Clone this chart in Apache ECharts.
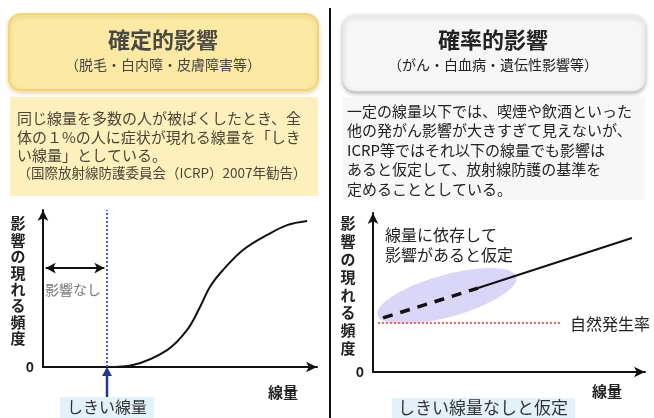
<!DOCTYPE html>
<html>
<head>
<meta charset="utf-8">
<script src="https://cdn.jsdelivr.net/npm/echarts@6/dist/echarts.min.js"></script>
<style>
  html, body { margin: 0; padding: 0; background: #fff; }
  #chart { width: 654px; height: 418px; }
</style>
</head>
<body>
<div id="chart"></div>
<script>
// 確定的影響（しきい値あり）の曲線
const leftDose = [23.4, 32.8, 45.3, 52.6, 57.3, 60.9, 65.7, 73, 81.8, 89.1, 96.4];
const leftFreq = [0, 1.3, 10.8, 23.6, 38.2, 51, 61.8, 74.5, 84.1, 90.4, 93];
const threshold = 23.4;

// 確率的影響（しきい値なし）
const rightDashDose = [3.7, 38.6];
const rightDashFreq = [34, 52.8];
const rightSolidDose = [38.6, 95.2];
const rightSolidFreq = [52.8, 84.3];
const naturalDose = [1.8, 68.8];
const naturalFreq = [30.8, 30.8];

const leftTitle = '確定的影響';
const leftSub = '（脱毛・白内障・皮膚障害等）';
const leftBody = ['同じ線量を多数の人が被ばくしたとき、全', '体の１%の人に症状が現れる線量を「しき', 'い線量」としている。'];
const leftNote = '（国際放射線防護委員会（ICRP）2007年勧告）';
const rightTitle = '確率的影響';
const rightSub = '（がん・白血病・遺伝性影響等）';
const rightBody = ['一定の線量以下では、喫煙や飲酒といった', '他の発がん影響が大きすぎて見えないが、', 'ICRP等ではそれ以下の線量でも影響は', 'あると仮定して、放射線防護の基準を', '定めることとしている。'];
const yName = '影響の現れる頻度';

const FONT = '"Noto Sans CJK JP", sans-serif';
const pairs = (xs, ys) => xs.map((x, i) => [x, ys[i]]);

const chart = echarts.init(document.getElementById('chart'));

function axisX(gridIndex) {
    return {
        type: 'value', gridIndex, min: 0, max: 100,
        axisLine: { show: true, symbol: ['none', 'arrow'], symbolSize: [8, 11], lineStyle: { color: '#111', width: 2 } },
        axisTick: { show: false }, axisLabel: { show: false }, splitLine: { show: false }
    };
}
function axisY(gridIndex) {
    return {
        type: 'value', gridIndex, min: 0, max: 100, interval: 100,
        axisLine: { show: true, symbol: ['none', 'arrow'], symbolSize: [8, 11], lineStyle: { color: '#111', width: 2 } },
        axisTick: { show: false }, splitLine: { show: false },
        axisLabel: {
            margin: 9, fontFamily: FONT, fontWeight: 'bold', fontSize: 14, color: '#222',
            formatter: v => (v === 0 ? '0' : '')
        }
    };
}

const text = (t, x, y, size, opts = {}) => ({
    type: 'text', z: 10,
    style: {
        text: t, x, y, font: `${opts.bold ? 'bold ' : ''}${size}px ${FONT}`,
        fill: opts.color || '#333', textAlign: opts.align || 'left', textVerticalAlign: 'middle',
        lineHeight: opts.lineHeight
    }
});

const graphics = [
    // 左ヘッダー
    { type: 'rect', shape: { x: 9, y: 14, width: 309, height: 76, r: 12 },
      style: { fill: '#fbe9a4', stroke: '#f2d676', lineWidth: 2, shadowBlur: 4, shadowColor: 'rgba(200,160,60,0.4)', shadowOffsetY: 2 } },
    text(leftTitle, 163, 40, 22, { bold: true, color: '#4a4a44', align: 'center' }),
    text(leftSub, 163, 65, 14, { color: '#444', align: 'center' }),
    // 左説明
    { type: 'rect', shape: { x: 10, y: 97, width: 308, height: 99 }, style: { fill: '#fdf0bd' } },
    text(leftBody.join('\n'), 17, 137, 15, { color: '#4a4536', lineHeight: 18.5 }),
    text(leftNote, 162, 173, 13.5, { color: '#4a4536', align: 'center' }),

    // 仕切り線
    { type: 'line', shape: { x1: 330, y1: 8, x2: 330, y2: 418 }, style: { stroke: '#111', lineWidth: 2 } },

    // 右ヘッダー
    { type: 'rect', shape: { x: 343, y: 15, width: 302, height: 76, r: 12 },
      style: { fill: '#f6f6f6', stroke: '#eaeaea', lineWidth: 1, shadowBlur: 4, shadowColor: 'rgba(0,0,0,0.3)', shadowOffsetY: 2 } },
    text(rightTitle, 493, 40, 22, { bold: true, color: '#222', align: 'center' }),
    text(rightSub, 493, 65, 14, { color: '#222', align: 'center' }),
    { type: 'rect', shape: { x: 343, y: 97, width: 302, height: 103 }, style: { fill: '#f7f7f7' } },
    text(rightBody.join('\n'), 347, 150, 15, { color: '#222', lineHeight: 19.5 }),

    // 左グラフ注記
    text(yName.split('').join('\n'), 18, 281, 15, { bold: true, color: '#222', align: 'center', lineHeight: 16.4 }),
    text('影響なし', 45, 290, 14, { color: '#777' }),
    text('線量', 283, 392, 15, { bold: true, color: '#222', align: 'center' }),
    { type: 'line', shape: { x1: 107, y1: 404, x2: 107, y2: 374 }, style: { stroke: '#26378a', lineWidth: 2.5 } },
    { type: 'polygon', shape: { points: [[107, 367], [102, 376], [112, 376]] }, style: { fill: '#26378a' } },
    { type: 'rect', shape: { x: 60, y: 397, width: 94, height: 21 }, style: { fill: '#e3f1fb' } },
    text('しきい線量', 107, 407, 16, { color: '#333', align: 'center' }),

    // 右グラフ注記
    { type: 'ellipse', shape: { cx: 447, cy: 296, rx: 72, ry: 21 }, rotation: 0.27, originX: 447, originY: 296,
      style: { fill: 'rgba(205,200,245,0.75)' }, z: -1 },
    text(yName.split('').join('\n'), 348, 286, 15, { bold: true, color: '#222', align: 'center', lineHeight: 17.8 }),
    text('線量に依存して\n影響があると仮定', 385, 245, 16, { color: '#222', lineHeight: 20 }),
    text('自然発生率', 570, 324, 16, { color: '#222' }),
    text('線量', 607, 391, 15, { bold: true, color: '#222', align: 'center' }),
    { type: 'rect', shape: { x: 392, y: 398, width: 183, height: 20 }, style: { fill: '#e3f1fb' } },
    text('しきい線量なしと仮定', 483, 408, 17, { color: '#333', align: 'center' })
];

const option = {
    animation: false,
    backgroundColor: '#fff',
    grid: [
        { left: 43, right: 654 - 317, top: 210, bottom: 418 - 367 },
        { left: 373, right: 654 - 645, top: 213, bottom: 418 - 372 }
    ],
    xAxis: [axisX(0), axisX(1)],
    yAxis: [axisY(0), axisY(1)],
    graphic: graphics,
    series: [
        {
            type: 'line', xAxisIndex: 0, yAxisIndex: 0, smooth: 0.35, symbol: 'none',
            data: pairs(leftDose, leftFreq),
            lineStyle: { color: '#111', width: 2 },
            markLine: {
                silent: true, animation: false, label: { show: false },
                data: [
                    [{ coord: [threshold, 0], symbol: 'none', lineStyle: { color: '#3a5fd0', type: 'dotted', width: 2 } },
                     { coord: [threshold, 100], symbol: 'none' }],
                    [{ coord: [1, 63], symbol: 'arrow', lineStyle: { color: '#111', type: 'solid', width: 2 } },
                     { coord: [22.4, 63], symbol: 'arrow' }]
                ],
                symbolSize: [8, 10]
            }
        },
        {
            type: 'line', xAxisIndex: 1, yAxisIndex: 1, symbol: 'none',
            data: pairs(naturalDose, naturalFreq),
            lineStyle: { color: '#e8674e', width: 2, type: 'dotted' }
        },
        {
            type: 'line', xAxisIndex: 1, yAxisIndex: 1, symbol: 'none',
            data: pairs(rightDashDose, rightDashFreq),
            lineStyle: { color: '#111', width: 3.5, type: [10, 8] }
        },
        {
            type: 'line', xAxisIndex: 1, yAxisIndex: 1, symbol: 'none',
            data: pairs(rightSolidDose, rightSolidFreq),
            lineStyle: { color: '#111', width: 2 }
        }
    ]
};

chart.setOption(option);
window.addEventListener('resize', () => chart.resize());
</script>
</body>
</html>
